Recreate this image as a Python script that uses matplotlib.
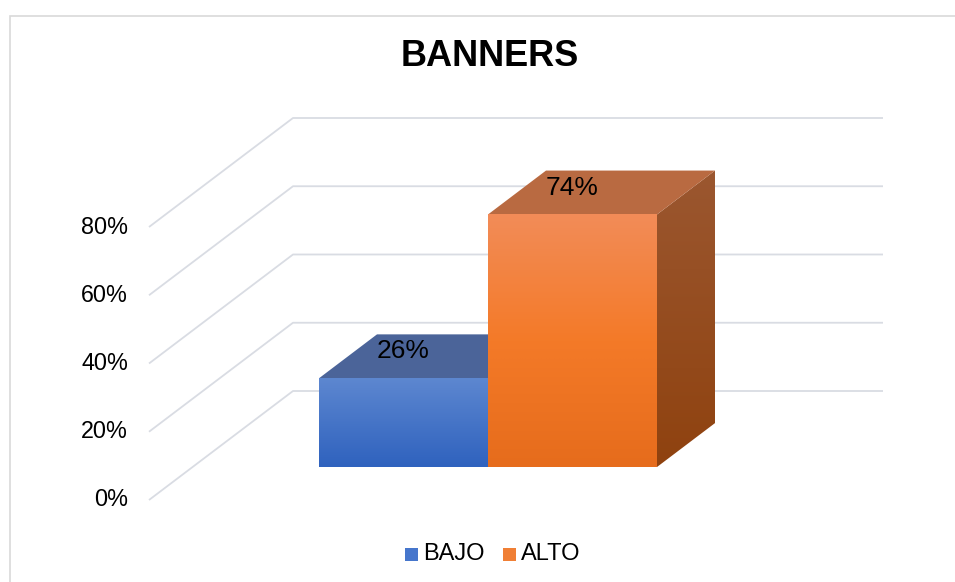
import numpy as np
import matplotlib
matplotlib.use("Agg")
import matplotlib.pyplot as plt
from matplotlib.patches import Polygon, Rectangle
from matplotlib.colors import to_rgb

# ---- data ----
title = "BANNERS"
categories = ["BAJO", "ALTO"]
values = [26, 74]
tick_values = [0, 20, 40, 60, 80]
tick_labels = ["0%", "20%", "40%", "60%", "80%"]

# ---- style ----
front_top = ["#5d87d0", "#f28c58"]
front_bot = ["#2f62be", "#e66c1c"]
front_mid = [None, "#f47a28"]
top_col = ["#4b6499", "#b96a41"]
side_top = ["#5a6f9a", "#9b5730"]
side_bot = ["#2a4f8f", "#8f420f"]
legend_col = ["#4676cc", "#f07f35"]
grid_col = "#d9dce3"
FONT = "Liberation Sans"

W, H = 955, 582
fig = plt.figure(figsize=(W / 100, H / 100), dpi=100)
ax = fig.add_axes([0, 0, 1, 1])
ax.set_xlim(0, W)
ax.set_ylim(H, 0)
ax.axis("off")

# oblique projection layout (pixel frame)
X0, Y0 = 149.0, 500.0      # front-left corner of floor
PPV = 3.4125               # pixels per percent
KY = 0.757                 # vertical shift per unit of depth (depth measured in x pixels)
WALL_D = 144.0             # depth of back wall
FLOOR_W = 590.0            # width of floor
BAR_D0, BAR_D1 = 43.6, 101.6
BAR_X0, BAR_W = 126.4, 169.0


def proj(x, z, d):
    return X0 + x + d, Y0 - z * PPV - d * KY


def grad_poly(verts, colors):
    verts = np.array(verts)
    patch = Polygon(verts, closed=True, facecolor="none", edgecolor="none")
    ax.add_patch(patch)
    n = 256
    t = np.linspace(0, 1, n)
    cols = [np.array(to_rgb(c)) for c in colors]
    if len(cols) == 2:
        arr = np.outer(1 - t, cols[0]) + np.outer(t, cols[1])
    else:
        arr = np.empty((n, 3))
        for i, tt in enumerate(t):
            if tt < 0.5:
                f = tt / 0.5
                arr[i] = cols[0] * (1 - f) + cols[1] * f
            else:
                f = (tt - 0.5) / 0.5
                arr[i] = cols[1] * (1 - f) + cols[2] * f
    img = arr.reshape(n, 1, 3)
    x0, x1 = verts[:, 0].min(), verts[:, 0].max()
    y0, y1 = verts[:, 1].min(), verts[:, 1].max()
    im = ax.imshow(img, extent=(x0, x1, y1, y0), origin="upper",
                   aspect="auto", interpolation="bilinear", zorder=3)
    im.set_clip_path(patch)


# chart border (left and top edges visible)
ax.plot([9.5, 9.5, W + 5], [H + 5, 15.5, 15.5], color="#d9d9d9", lw=1.2,
        solid_joinstyle="miter", zorder=1)

# gridlines: left wall diagonal + back wall horizontal
for v in tick_values:
    xa, ya = proj(0, v, 0)
    xb, yb = proj(0, v, WALL_D)
    xc, yc = proj(FLOOR_W, v, WALL_D)
    ax.plot([xa, xb, xc], [ya, yb, yc], color=grid_col, lw=1.3, zorder=2,
            solid_capstyle="butt")

# tick labels
for v, lab in zip(tick_values, tick_labels):
    x, y = proj(0, v, 0)
    ax.text(x - 21, y, lab, ha="right", va="center", fontsize=16.8,
            family=FONT, color="#000000")

# bars
for i, (cat, val) in enumerate(zip(categories, values)):
    xl = BAR_X0 + i * BAR_W
    xr = xl + BAR_W
    # right side
    side = [proj(xr, 0, BAR_D0), proj(xr, val, BAR_D0),
            proj(xr, val, BAR_D1), proj(xr, 0, BAR_D1)]
    grad_poly(side, [side_top[i], side_bot[i]])
    # top
    top = [proj(xl, val, BAR_D0), proj(xr, val, BAR_D0),
           proj(xr, val, BAR_D1), proj(xl, val, BAR_D1)]
    ax.add_patch(Polygon(top, closed=True, facecolor=top_col[i],
                         edgecolor="none", zorder=3))
    # front
    front = [proj(xl, 0, BAR_D0), proj(xr, 0, BAR_D0),
             proj(xr, val, BAR_D0), proj(xl, val, BAR_D0)]
    cols = [front_top[i], front_bot[i]] if front_mid[i] is None else \
        [front_top[i], front_mid[i], front_bot[i]]
    grad_poly(front, cols)
    # label
    lx, _ = proj((xl + xr) / 2, val, BAR_D0)
    _, ly = proj((xl + xr) / 2, val, (BAR_D0 + BAR_D1) / 2)
    ax.text(lx, ly - 5, f"{val}%", ha="center", va="center", fontsize=19,
            family=FONT, color="#000000", zorder=5)

# title
ax.text(490, 56, title, ha="center", va="center", fontsize=26,
        fontweight="bold", family=FONT, color="#000000")

# legend
lx = 405
for i, cat in enumerate(categories):
    ax.add_patch(Rectangle((lx, 548), 12.5, 12.5, facecolor=legend_col[i],
                           edgecolor="none", zorder=4))
    t = ax.text(lx + 18, 554.5, cat, ha="left", va="center", fontsize=17,
                family=FONT, color="#000000")
    lx = 503

fig.savefig("out.png", dpi=100)
